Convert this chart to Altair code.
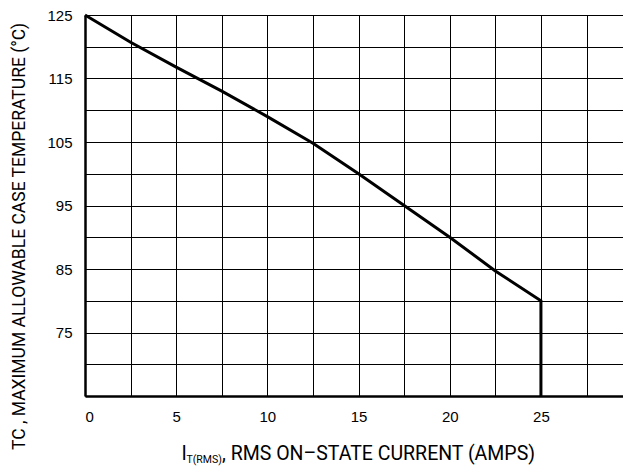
import altair as alt
import pandas as pd

# Data
current = [0, 2.5, 5, 7.5, 10, 12.5, 15, 17.5, 20, 22.5, 25, 25]
temp = [125, 120.7, 116.8, 113, 109, 104.8, 100, 95, 90, 84.7, 80, 65]
x_ticks = [0, 2.5, 5, 7.5, 10, 12.5, 15, 17.5, 20, 22.5, 25, 27.5]
y_ticks = [65, 70, 75, 80, 85, 90, 95, 100, 105, 110, 115, 120, 125]

df = pd.DataFrame({"i": current, "t": temp, "order": list(range(len(current)))})
one = pd.DataFrame({"k": [0]})

LABEL_FONT = "Liberation Sans"
TITLE_FONT = "Roboto"

line = alt.Chart(df).mark_line(color="black", strokeWidth=3, strokeJoin="miter").encode(
    x=alt.X(
        "i:Q",
        scale=alt.Scale(domain=[0, 29.5], nice=False, zero=False),
        axis=alt.Axis(
            values=x_ticks,
            labelExpr="datum.value % 5 == 0 && datum.value < 30 ? datum.label : ''",
            grid=True,
            gridColor="black",
            gridWidth=1,
            gridOpacity=1,
            ticks=False,
            domainColor="black",
            domainWidth=2.5,
            labelFont=LABEL_FONT,
            labelFontSize=15,
            labelColor="black",
            labelPadding=13,
            title=None,
        ),
    ),
    y=alt.Y(
        "t:Q",
        scale=alt.Scale(domain=[65, 125], nice=False, zero=False),
        axis=alt.Axis(
            values=y_ticks,
            labelExpr="datum.value >= 75 && (datum.value - 75) % 10 == 0 ? datum.label : ''",
            grid=True,
            gridColor="black",
            gridWidth=1,
            gridOpacity=1,
            ticks=False,
            domainColor="black",
            domainWidth=2.5,
            labelFont=LABEL_FONT,
            labelFontSize=15,
            labelColor="black",
            labelPadding=13,
            title="TC , MAXIMUM ALLOWABLE CASE TEMPERATURE (°C)",
            titleFont=TITLE_FONT,
            titleFontSize=17.5,
            titleFontWeight="normal",
            titleColor="black",
            titleAngle=270,
            titleAlign="center",
            titleBaseline="middle",
            titleX=-66,
            titleY=221,
        ),
    ),
    order="order:Q",
)

t1 = alt.Chart(one).mark_text(
    text="I", font=TITLE_FONT, fontSize=19.5, align="left", baseline="alphabetic", color="black"
).encode(x=alt.value(96.5), y=alt.value(445))
t2 = alt.Chart(one).mark_text(
    text="T(RMS)", font=TITLE_FONT, fontSize=10.5, align="left", baseline="alphabetic", color="black"
).encode(x=alt.value(101.5), y=alt.value(448))
t3 = alt.Chart(one).mark_text(
    text=", RMS ON–STATE CURRENT (AMPS)", font=TITLE_FONT, fontSize=19.5, align="left",
    baseline="alphabetic", color="black"
).encode(x=alt.value(137), y=alt.value(445))

chart = alt.layer(line, t1, t2, t3).properties(
    width=538,
    height=381,
    autosize=alt.AutoSizeParams(type="none"),
    padding={"left": 77, "top": 7, "right": 0, "bottom": 70},
).configure_view(stroke=None)

chart.save("out.html", embed_options={"renderer": "svg", "actions": False})
